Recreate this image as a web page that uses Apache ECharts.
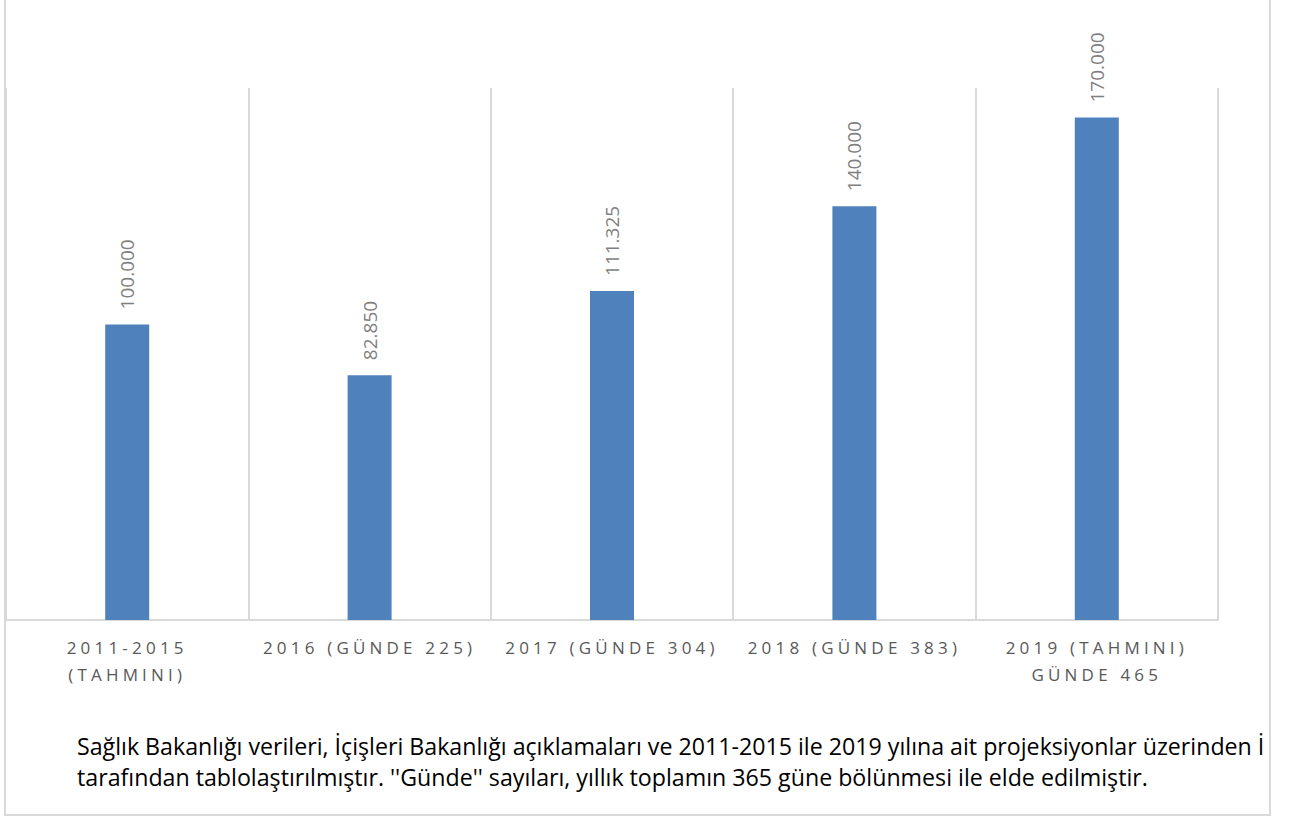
<!DOCTYPE html>
<html>
<head>
<meta charset="utf-8">
<style>
  html, body { margin: 0; padding: 0; background: #fff; }
  #chart { width: 1297px; height: 821px; }
</style>
<script src="https://cdn.jsdelivr.net/npm/echarts@6/dist/echarts.min.js"></script>
</head>
<body>
<div id="chart"></div>
<script>
const categories = [
  '2011-2015\n(TAHMINI)',
  '2016 (GÜNDE 225)',
  '2017 (GÜNDE 304)',
  '2018 (GÜNDE 383)',
  '2019 (TAHMINI)\nGÜNDE 465'
]
const values = [100000, 82850, 111325, 140000, 170000]
const footnote = 'Sağlık Bakanlığı verileri, İçişleri Bakanlığı açıklamaları ve 2011-2015 ile 2019 yılına ait projeksiyonlar üzerinden İ\n' +
  'tarafından tablolaştırılmıştır. \'\'Günde\'\' sayıları, yıllık toplamın 365 güne bölünmesi ile elde edilmiştir.'

const gridColor = '#d9d9d9'

const chart = echarts.init(document.getElementById('chart'), null, { renderer: 'svg' })

chart.setOption({
  animation: false,
  grid: {
    left: 6,
    right: 79,
    top: 88,
    bottom: 201
  },
  xAxis: {
    type: 'category',
    data: categories,
    axisTick: { show: false },
    axisLine: { lineStyle: { color: gridColor, width: 2 } },
    splitLine: { show: true, interval: 0, lineStyle: { color: gridColor, width: 2 } },
    axisLabel: {
      interval: 0,
      color: '#595959',
      fontFamily: 'Open Sans',
      fontSize: 17,
      lineHeight: 27,
      margin: 14
    }
  },
  yAxis: {
    type: 'value',
    min: 0,
    max: 180000,
    show: false,
    splitLine: { show: false }
  },
  series: [{
    type: 'bar',
    data: values,
    barWidth: 44,
    itemStyle: { color: '#4f81bd' },
    label: {
      show: true,
      position: 'top',
      rotate: 90,
      align: 'left',
      verticalAlign: 'middle',
      distance: 15,
      color: '#7f7f7f',
      fontFamily: 'Open Sans',
      fontSize: 19,
      formatter: p => p.value.toLocaleString('de-DE')
    }
  }],
  graphic: [{
    type: 'rect',
    shape: { x: 5, y: -10, width: 1265, height: 825 },
    style: { fill: 'none', stroke: gridColor, lineWidth: 2 },
    silent: true
  }, {
    type: 'text',
    left: 77,
    top: 730,
    style: {
      text: footnote,
      fill: '#000',
      fontFamily: 'Open Sans',
      fontSize: 23.2,
      lineHeight: 31
    }
  }]
})

// spaced-out axis labels like the original
const labelLines = new Set(categories.join('\n').split('\n'))
function spaceLabels() {
  document.querySelectorAll('#chart text').forEach(t => {
    if (labelLines.has(t.textContent.trim())) t.style.letterSpacing = '4.2px'
  })
}
chart.on('finished', spaceLabels)
setTimeout(spaceLabels, 50)
setTimeout(spaceLabels, 300)
</script>
</body>
</html>
